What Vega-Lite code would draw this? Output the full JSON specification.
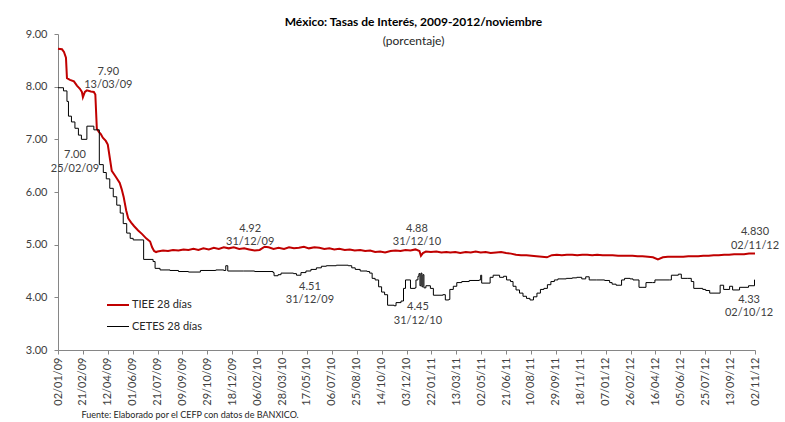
{
  "$schema": "https://vega.github.io/schema/vega-lite/v6.json",
  "width": 697,
  "height": 316,
  "autosize": {"type": "none"},
  "padding": {"left": 58, "top": 34, "right": 30, "bottom": 72},
  "background": "white",
  "config": {
    "view": {"stroke": null},
    "font": "Lato",
    "axis": {"grid": false, "domainColor": "#868686", "tickColor": "#868686", "labelColor": "#404040", "labelFont": "Lato", "labelFontSize": 11}
  },
  "title": {
    "text": "México: Tasas de Interés, 2009-2012/noviembre",
    "subtitle": "(porcentaje)",
    "anchor": "middle",
    "frame": "group",
    "offset": -19,
    "dx": 7,
    "dy": 1,
    "font": "Lato",
    "fontSize": 12,
    "fontWeight": "bold",
    "color": "#000000",
    "subtitleFont": "Lato",
    "subtitleFontSize": 12,
    "subtitleColor": "#262626",
    "subtitlePadding": 7
  },
  "datasets": {
    "tiee": [
      {"serie": "TIEE 28 días", "fecha": "2009-01-02", "valor": 8.72},
      {"serie": "TIEE 28 días", "fecha": "2009-01-10", "valor": 8.71},
      {"serie": "TIEE 28 días", "fecha": "2009-01-14", "valor": 8.66},
      {"serie": "TIEE 28 días", "fecha": "2009-01-18", "valor": 8.55},
      {"serie": "TIEE 28 días", "fecha": "2009-01-20", "valor": 8.16},
      {"serie": "TIEE 28 días", "fecha": "2009-01-26", "valor": 8.13},
      {"serie": "TIEE 28 días", "fecha": "2009-02-03", "valor": 8.10},
      {"serie": "TIEE 28 días", "fecha": "2009-02-09", "valor": 8.02},
      {"serie": "TIEE 28 días", "fecha": "2009-02-15", "valor": 7.96},
      {"serie": "TIEE 28 días", "fecha": "2009-02-19", "valor": 7.90},
      {"serie": "TIEE 28 días", "fecha": "2009-02-21", "valor": 7.80},
      {"serie": "TIEE 28 días", "fecha": "2009-02-25", "valor": 7.90},
      {"serie": "TIEE 28 días", "fecha": "2009-03-01", "valor": 7.93},
      {"serie": "TIEE 28 días", "fecha": "2009-03-09", "valor": 7.91},
      {"serie": "TIEE 28 días", "fecha": "2009-03-15", "valor": 7.90},
      {"serie": "TIEE 28 días", "fecha": "2009-03-18", "valor": 7.85},
      {"serie": "TIEE 28 días", "fecha": "2009-03-21", "valor": 7.20},
      {"serie": "TIEE 28 días", "fecha": "2009-03-25", "valor": 7.14},
      {"serie": "TIEE 28 días", "fecha": "2009-03-29", "valor": 7.10},
      {"serie": "TIEE 28 días", "fecha": "2009-04-02", "valor": 7.03},
      {"serie": "TIEE 28 días", "fecha": "2009-04-08", "valor": 6.97},
      {"serie": "TIEE 28 días", "fecha": "2009-04-12", "valor": 6.90},
      {"serie": "TIEE 28 días", "fecha": "2009-04-16", "valor": 6.65},
      {"serie": "TIEE 28 días", "fecha": "2009-04-20", "valor": 6.40},
      {"serie": "TIEE 28 días", "fecha": "2009-04-28", "valor": 6.29},
      {"serie": "TIEE 28 días", "fecha": "2009-05-06", "valor": 6.17},
      {"serie": "TIEE 28 días", "fecha": "2009-05-10", "valor": 6.05},
      {"serie": "TIEE 28 días", "fecha": "2009-05-14", "valor": 5.90},
      {"serie": "TIEE 28 días", "fecha": "2009-05-19", "valor": 5.65},
      {"serie": "TIEE 28 días", "fecha": "2009-05-23", "valor": 5.50},
      {"serie": "TIEE 28 días", "fecha": "2009-05-29", "valor": 5.42},
      {"serie": "TIEE 28 días", "fecha": "2009-06-04", "valor": 5.35},
      {"serie": "TIEE 28 días", "fecha": "2009-06-12", "valor": 5.27},
      {"serie": "TIEE 28 días", "fecha": "2009-06-20", "valor": 5.20},
      {"serie": "TIEE 28 días", "fecha": "2009-06-28", "valor": 5.12},
      {"serie": "TIEE 28 días", "fecha": "2009-07-06", "valor": 5.06},
      {"serie": "TIEE 28 días", "fecha": "2009-07-10", "valor": 4.95},
      {"serie": "TIEE 28 días", "fecha": "2009-07-14", "valor": 4.88},
      {"serie": "TIEE 28 días", "fecha": "2009-07-18", "valor": 4.86},
      {"serie": "TIEE 28 días", "fecha": "2009-07-21", "valor": 4.87},
      {"serie": "TIEE 28 días", "fecha": "2009-08-01", "valor": 4.89},
      {"serie": "TIEE 28 días", "fecha": "2009-08-11", "valor": 4.88},
      {"serie": "TIEE 28 días", "fecha": "2009-08-21", "valor": 4.90},
      {"serie": "TIEE 28 días", "fecha": "2009-09-01", "valor": 4.89},
      {"serie": "TIEE 28 días", "fecha": "2009-09-11", "valor": 4.91},
      {"serie": "TIEE 28 días", "fecha": "2009-09-21", "valor": 4.90},
      {"serie": "TIEE 28 días", "fecha": "2009-10-01", "valor": 4.92},
      {"serie": "TIEE 28 días", "fecha": "2009-10-11", "valor": 4.90},
      {"serie": "TIEE 28 días", "fecha": "2009-10-21", "valor": 4.93},
      {"serie": "TIEE 28 días", "fecha": "2009-11-01", "valor": 4.91},
      {"serie": "TIEE 28 días", "fecha": "2009-11-11", "valor": 4.94},
      {"serie": "TIEE 28 días", "fecha": "2009-11-21", "valor": 4.92},
      {"serie": "TIEE 28 días", "fecha": "2009-12-01", "valor": 4.95},
      {"serie": "TIEE 28 días", "fecha": "2009-12-11", "valor": 4.93},
      {"serie": "TIEE 28 días", "fecha": "2009-12-21", "valor": 4.95},
      {"serie": "TIEE 28 días", "fecha": "2010-01-01", "valor": 4.92},
      {"serie": "TIEE 28 días", "fecha": "2010-01-11", "valor": 4.93},
      {"serie": "TIEE 28 días", "fecha": "2010-01-21", "valor": 4.91},
      {"serie": "TIEE 28 días", "fecha": "2010-02-01", "valor": 4.89},
      {"serie": "TIEE 28 días", "fecha": "2010-02-11", "valor": 4.90},
      {"serie": "TIEE 28 días", "fecha": "2010-02-21", "valor": 4.96},
      {"serie": "TIEE 28 días", "fecha": "2010-03-01", "valor": 4.95},
      {"serie": "TIEE 28 días", "fecha": "2010-03-11", "valor": 4.92},
      {"serie": "TIEE 28 días", "fecha": "2010-03-21", "valor": 4.94},
      {"serie": "TIEE 28 días", "fecha": "2010-04-01", "valor": 4.92},
      {"serie": "TIEE 28 días", "fecha": "2010-04-11", "valor": 4.95},
      {"serie": "TIEE 28 días", "fecha": "2010-04-21", "valor": 4.93},
      {"serie": "TIEE 28 días", "fecha": "2010-05-01", "valor": 4.94},
      {"serie": "TIEE 28 días", "fecha": "2010-05-11", "valor": 4.96},
      {"serie": "TIEE 28 días", "fecha": "2010-05-21", "valor": 4.93},
      {"serie": "TIEE 28 días", "fecha": "2010-06-01", "valor": 4.95},
      {"serie": "TIEE 28 días", "fecha": "2010-06-11", "valor": 4.94},
      {"serie": "TIEE 28 días", "fecha": "2010-06-21", "valor": 4.92},
      {"serie": "TIEE 28 días", "fecha": "2010-07-01", "valor": 4.93},
      {"serie": "TIEE 28 días", "fecha": "2010-07-11", "valor": 4.91},
      {"serie": "TIEE 28 días", "fecha": "2010-07-21", "valor": 4.92},
      {"serie": "TIEE 28 días", "fecha": "2010-08-01", "valor": 4.90},
      {"serie": "TIEE 28 días", "fecha": "2010-08-11", "valor": 4.91},
      {"serie": "TIEE 28 días", "fecha": "2010-08-21", "valor": 4.89},
      {"serie": "TIEE 28 días", "fecha": "2010-09-01", "valor": 4.90},
      {"serie": "TIEE 28 días", "fecha": "2010-09-11", "valor": 4.88},
      {"serie": "TIEE 28 días", "fecha": "2010-09-21", "valor": 4.89},
      {"serie": "TIEE 28 días", "fecha": "2010-10-01", "valor": 4.86},
      {"serie": "TIEE 28 días", "fecha": "2010-10-11", "valor": 4.87},
      {"serie": "TIEE 28 días", "fecha": "2010-10-21", "valor": 4.85},
      {"serie": "TIEE 28 días", "fecha": "2010-11-01", "valor": 4.88},
      {"serie": "TIEE 28 días", "fecha": "2010-11-11", "valor": 4.89},
      {"serie": "TIEE 28 días", "fecha": "2010-11-21", "valor": 4.88},
      {"serie": "TIEE 28 días", "fecha": "2010-12-01", "valor": 4.90},
      {"serie": "TIEE 28 días", "fecha": "2010-12-11", "valor": 4.89},
      {"serie": "TIEE 28 días", "fecha": "2010-12-21", "valor": 4.91},
      {"serie": "TIEE 28 días", "fecha": "2010-12-29", "valor": 4.88},
      {"serie": "TIEE 28 días", "fecha": "2011-01-01", "valor": 4.79},
      {"serie": "TIEE 28 días", "fecha": "2011-01-05", "valor": 4.84},
      {"serie": "TIEE 28 días", "fecha": "2011-01-11", "valor": 4.87},
      {"serie": "TIEE 28 días", "fecha": "2011-01-21", "valor": 4.86},
      {"serie": "TIEE 28 días", "fecha": "2011-02-01", "valor": 4.87},
      {"serie": "TIEE 28 días", "fecha": "2011-02-11", "valor": 4.85},
      {"serie": "TIEE 28 días", "fecha": "2011-02-21", "valor": 4.86},
      {"serie": "TIEE 28 días", "fecha": "2011-03-01", "valor": 4.85},
      {"serie": "TIEE 28 días", "fecha": "2011-03-11", "valor": 4.86},
      {"serie": "TIEE 28 días", "fecha": "2011-03-21", "valor": 4.84},
      {"serie": "TIEE 28 días", "fecha": "2011-04-01", "valor": 4.86},
      {"serie": "TIEE 28 días", "fecha": "2011-04-11", "valor": 4.85},
      {"serie": "TIEE 28 días", "fecha": "2011-04-21", "valor": 4.87},
      {"serie": "TIEE 28 días", "fecha": "2011-05-01", "valor": 4.85},
      {"serie": "TIEE 28 días", "fecha": "2011-05-11", "valor": 4.86},
      {"serie": "TIEE 28 días", "fecha": "2011-05-21", "valor": 4.84},
      {"serie": "TIEE 28 días", "fecha": "2011-06-01", "valor": 4.85},
      {"serie": "TIEE 28 días", "fecha": "2011-06-11", "valor": 4.86},
      {"serie": "TIEE 28 días", "fecha": "2011-06-21", "valor": 4.84},
      {"serie": "TIEE 28 días", "fecha": "2011-07-01", "valor": 4.83},
      {"serie": "TIEE 28 días", "fecha": "2011-07-11", "valor": 4.81},
      {"serie": "TIEE 28 días", "fecha": "2011-07-21", "valor": 4.80},
      {"serie": "TIEE 28 días", "fecha": "2011-08-01", "valor": 4.80},
      {"serie": "TIEE 28 días", "fecha": "2011-08-11", "valor": 4.79},
      {"serie": "TIEE 28 días", "fecha": "2011-08-21", "valor": 4.78},
      {"serie": "TIEE 28 días", "fecha": "2011-09-01", "valor": 4.77},
      {"serie": "TIEE 28 días", "fecha": "2011-09-11", "valor": 4.76},
      {"serie": "TIEE 28 días", "fecha": "2011-09-21", "valor": 4.80},
      {"serie": "TIEE 28 días", "fecha": "2011-10-01", "valor": 4.81},
      {"serie": "TIEE 28 días", "fecha": "2011-10-11", "valor": 4.80},
      {"serie": "TIEE 28 días", "fecha": "2011-10-21", "valor": 4.81},
      {"serie": "TIEE 28 días", "fecha": "2011-11-01", "valor": 4.81},
      {"serie": "TIEE 28 días", "fecha": "2011-11-11", "valor": 4.80},
      {"serie": "TIEE 28 días", "fecha": "2011-11-21", "valor": 4.81},
      {"serie": "TIEE 28 días", "fecha": "2011-12-01", "valor": 4.81},
      {"serie": "TIEE 28 días", "fecha": "2011-12-11", "valor": 4.80},
      {"serie": "TIEE 28 días", "fecha": "2011-12-21", "valor": 4.81},
      {"serie": "TIEE 28 días", "fecha": "2012-01-01", "valor": 4.80},
      {"serie": "TIEE 28 días", "fecha": "2012-01-11", "valor": 4.80},
      {"serie": "TIEE 28 días", "fecha": "2012-01-21", "valor": 4.80},
      {"serie": "TIEE 28 días", "fecha": "2012-02-01", "valor": 4.79},
      {"serie": "TIEE 28 días", "fecha": "2012-02-11", "valor": 4.79},
      {"serie": "TIEE 28 días", "fecha": "2012-02-21", "valor": 4.79},
      {"serie": "TIEE 28 días", "fecha": "2012-03-01", "valor": 4.79},
      {"serie": "TIEE 28 días", "fecha": "2012-03-11", "valor": 4.78},
      {"serie": "TIEE 28 días", "fecha": "2012-03-21", "valor": 4.78},
      {"serie": "TIEE 28 días", "fecha": "2012-04-01", "valor": 4.77},
      {"serie": "TIEE 28 días", "fecha": "2012-04-11", "valor": 4.76},
      {"serie": "TIEE 28 días", "fecha": "2012-04-21", "valor": 4.72},
      {"serie": "TIEE 28 días", "fecha": "2012-05-01", "valor": 4.76},
      {"serie": "TIEE 28 días", "fecha": "2012-05-11", "valor": 4.77},
      {"serie": "TIEE 28 días", "fecha": "2012-05-21", "valor": 4.77},
      {"serie": "TIEE 28 días", "fecha": "2012-06-01", "valor": 4.77},
      {"serie": "TIEE 28 días", "fecha": "2012-06-11", "valor": 4.77},
      {"serie": "TIEE 28 días", "fecha": "2012-06-21", "valor": 4.78},
      {"serie": "TIEE 28 días", "fecha": "2012-07-01", "valor": 4.78},
      {"serie": "TIEE 28 días", "fecha": "2012-07-11", "valor": 4.78},
      {"serie": "TIEE 28 días", "fecha": "2012-07-21", "valor": 4.79},
      {"serie": "TIEE 28 días", "fecha": "2012-08-01", "valor": 4.79},
      {"serie": "TIEE 28 días", "fecha": "2012-08-11", "valor": 4.80},
      {"serie": "TIEE 28 días", "fecha": "2012-08-21", "valor": 4.80},
      {"serie": "TIEE 28 días", "fecha": "2012-09-01", "valor": 4.81},
      {"serie": "TIEE 28 días", "fecha": "2012-09-11", "valor": 4.81},
      {"serie": "TIEE 28 días", "fecha": "2012-09-21", "valor": 4.82},
      {"serie": "TIEE 28 días", "fecha": "2012-10-01", "valor": 4.82},
      {"serie": "TIEE 28 días", "fecha": "2012-10-11", "valor": 4.82},
      {"serie": "TIEE 28 días", "fecha": "2012-10-21", "valor": 4.83},
      {"serie": "TIEE 28 días", "fecha": "2012-11-02", "valor": 4.83}
    ],
    "cetes": [
      {"serie": "CETES 28 días", "fecha": "2009-01-02", "valor": 7.98},
      {"serie": "CETES 28 días", "fecha": "2009-01-13", "valor": 7.92},
      {"serie": "CETES 28 días", "fecha": "2009-01-20", "valor": 7.72},
      {"serie": "CETES 28 días", "fecha": "2009-01-23", "valor": 7.44},
      {"serie": "CETES 28 días", "fecha": "2009-01-29", "valor": 7.33},
      {"serie": "CETES 28 días", "fecha": "2009-02-05", "valor": 7.21},
      {"serie": "CETES 28 días", "fecha": "2009-02-12", "valor": 7.08},
      {"serie": "CETES 28 días", "fecha": "2009-02-18", "valor": 7.00},
      {"serie": "CETES 28 días", "fecha": "2009-03-01", "valor": 7.25},
      {"serie": "CETES 28 días", "fecha": "2009-03-15", "valor": 7.18},
      {"serie": "CETES 28 días", "fecha": "2009-03-26", "valor": 6.52},
      {"serie": "CETES 28 días", "fecha": "2009-04-03", "valor": 6.37},
      {"serie": "CETES 28 días", "fecha": "2009-04-09", "valor": 6.25},
      {"serie": "CETES 28 días", "fecha": "2009-04-16", "valor": 6.07},
      {"serie": "CETES 28 días", "fecha": "2009-04-23", "valor": 5.91},
      {"serie": "CETES 28 días", "fecha": "2009-04-30", "valor": 5.75},
      {"serie": "CETES 28 días", "fecha": "2009-05-07", "valor": 5.60},
      {"serie": "CETES 28 días", "fecha": "2009-05-13", "valor": 5.40},
      {"serie": "CETES 28 días", "fecha": "2009-05-20", "valor": 5.22},
      {"serie": "CETES 28 días", "fecha": "2009-05-27", "valor": 5.12},
      {"serie": "CETES 28 días", "fecha": "2009-06-02", "valor": 5.09},
      {"serie": "CETES 28 días", "fecha": "2009-06-23", "valor": 4.72},
      {"serie": "CETES 28 días", "fecha": "2009-07-12", "valor": 4.68},
      {"serie": "CETES 28 días", "fecha": "2009-07-16", "valor": 4.55},
      {"serie": "CETES 28 días", "fecha": "2009-07-26", "valor": 4.52},
      {"serie": "CETES 28 días", "fecha": "2009-08-15", "valor": 4.51},
      {"serie": "CETES 28 días", "fecha": "2009-09-01", "valor": 4.49},
      {"serie": "CETES 28 días", "fecha": "2009-09-21", "valor": 4.48},
      {"serie": "CETES 28 días", "fecha": "2009-10-15", "valor": 4.51},
      {"serie": "CETES 28 días", "fecha": "2009-11-15", "valor": 4.52},
      {"serie": "CETES 28 días", "fecha": "2009-12-01", "valor": 4.51},
      {"serie": "CETES 28 días", "fecha": "2009-12-05", "valor": 4.60},
      {"serie": "CETES 28 días", "fecha": "2009-12-09", "valor": 4.50},
      {"serie": "CETES 28 días", "fecha": "2010-01-10", "valor": 4.50},
      {"serie": "CETES 28 días", "fecha": "2010-02-01", "valor": 4.49},
      {"serie": "CETES 28 días", "fecha": "2010-03-10", "valor": 4.47},
      {"serie": "CETES 28 días", "fecha": "2010-03-12", "valor": 4.41},
      {"serie": "CETES 28 días", "fecha": "2010-03-20", "valor": 4.43},
      {"serie": "CETES 28 días", "fecha": "2010-03-26", "valor": 4.46},
      {"serie": "CETES 28 días", "fecha": "2010-04-20", "valor": 4.45},
      {"serie": "CETES 28 días", "fecha": "2010-04-26", "valor": 4.42},
      {"serie": "CETES 28 días", "fecha": "2010-05-05", "valor": 4.47},
      {"serie": "CETES 28 días", "fecha": "2010-05-15", "valor": 4.50},
      {"serie": "CETES 28 días", "fecha": "2010-05-25", "valor": 4.53},
      {"serie": "CETES 28 días", "fecha": "2010-06-05", "valor": 4.56},
      {"serie": "CETES 28 días", "fecha": "2010-06-15", "valor": 4.59},
      {"serie": "CETES 28 días", "fecha": "2010-06-25", "valor": 4.60},
      {"serie": "CETES 28 días", "fecha": "2010-07-15", "valor": 4.61},
      {"serie": "CETES 28 días", "fecha": "2010-08-08", "valor": 4.60},
      {"serie": "CETES 28 días", "fecha": "2010-08-15", "valor": 4.56},
      {"serie": "CETES 28 días", "fecha": "2010-08-22", "valor": 4.53},
      {"serie": "CETES 28 días", "fecha": "2010-09-01", "valor": 4.50},
      {"serie": "CETES 28 días", "fecha": "2010-09-15", "valor": 4.49},
      {"serie": "CETES 28 días", "fecha": "2010-09-20", "valor": 4.46},
      {"serie": "CETES 28 días", "fecha": "2010-09-25", "valor": 4.36},
      {"serie": "CETES 28 días", "fecha": "2010-10-01", "valor": 4.33},
      {"serie": "CETES 28 días", "fecha": "2010-10-08", "valor": 4.20},
      {"serie": "CETES 28 días", "fecha": "2010-10-14", "valor": 4.10},
      {"serie": "CETES 28 días", "fecha": "2010-10-20", "valor": 4.05},
      {"serie": "CETES 28 días", "fecha": "2010-10-26", "valor": 3.85},
      {"serie": "CETES 28 días", "fecha": "2010-11-08", "valor": 3.84},
      {"serie": "CETES 28 días", "fecha": "2010-11-12", "valor": 3.90},
      {"serie": "CETES 28 días", "fecha": "2010-11-22", "valor": 3.93},
      {"serie": "CETES 28 días", "fecha": "2010-11-27", "valor": 4.17},
      {"serie": "CETES 28 días", "fecha": "2010-12-01", "valor": 4.33},
      {"serie": "CETES 28 días", "fecha": "2010-12-11", "valor": 4.17},
      {"serie": "CETES 28 días", "fecha": "2010-12-20", "valor": 4.18},
      {"serie": "CETES 28 días", "fecha": "2010-12-22", "valor": 4.33},
      {"serie": "CETES 28 días", "fecha": "2010-12-26", "valor": 4.40},
      {"serie": "CETES 28 días", "fecha": "2010-12-28", "valor": 4.45},
      {"serie": "CETES 28 días", "fecha": "2010-12-30", "valor": 4.22},
      {"serie": "CETES 28 días", "fecha": "2011-01-01", "valor": 4.46},
      {"serie": "CETES 28 días", "fecha": "2011-01-03", "valor": 4.20},
      {"serie": "CETES 28 días", "fecha": "2011-01-05", "valor": 4.43},
      {"serie": "CETES 28 días", "fecha": "2011-01-07", "valor": 4.18},
      {"serie": "CETES 28 días", "fecha": "2011-01-11", "valor": 4.22},
      {"serie": "CETES 28 días", "fecha": "2011-01-20", "valor": 4.17},
      {"serie": "CETES 28 días", "fecha": "2011-01-26", "valor": 4.04},
      {"serie": "CETES 28 días", "fecha": "2011-02-14", "valor": 4.05},
      {"serie": "CETES 28 días", "fecha": "2011-02-19", "valor": 3.95},
      {"serie": "CETES 28 días", "fecha": "2011-02-26", "valor": 3.96},
      {"serie": "CETES 28 días", "fecha": "2011-02-28", "valor": 4.15},
      {"serie": "CETES 28 días", "fecha": "2011-03-07", "valor": 4.21},
      {"serie": "CETES 28 días", "fecha": "2011-03-14", "valor": 4.28},
      {"serie": "CETES 28 días", "fecha": "2011-03-24", "valor": 4.30},
      {"serie": "CETES 28 días", "fecha": "2011-04-08", "valor": 4.32},
      {"serie": "CETES 28 días", "fecha": "2011-04-28", "valor": 4.33},
      {"serie": "CETES 28 días", "fecha": "2011-05-01", "valor": 4.42},
      {"serie": "CETES 28 días", "fecha": "2011-05-03", "valor": 4.27},
      {"serie": "CETES 28 días", "fecha": "2011-05-20", "valor": 4.38},
      {"serie": "CETES 28 días", "fecha": "2011-05-26", "valor": 4.42},
      {"serie": "CETES 28 días", "fecha": "2011-06-08", "valor": 4.38},
      {"serie": "CETES 28 días", "fecha": "2011-06-16", "valor": 4.40},
      {"serie": "CETES 28 días", "fecha": "2011-06-22", "valor": 4.33},
      {"serie": "CETES 28 días", "fecha": "2011-06-30", "valor": 4.30},
      {"serie": "CETES 28 días", "fecha": "2011-07-05", "valor": 4.21},
      {"serie": "CETES 28 días", "fecha": "2011-07-11", "valor": 4.14},
      {"serie": "CETES 28 días", "fecha": "2011-07-18", "valor": 4.08},
      {"serie": "CETES 28 días", "fecha": "2011-07-25", "valor": 4.02},
      {"serie": "CETES 28 días", "fecha": "2011-08-01", "valor": 3.98},
      {"serie": "CETES 28 días", "fecha": "2011-08-08", "valor": 3.95},
      {"serie": "CETES 28 días", "fecha": "2011-08-15", "valor": 4.01},
      {"serie": "CETES 28 días", "fecha": "2011-08-22", "valor": 4.08},
      {"serie": "CETES 28 días", "fecha": "2011-08-29", "valor": 4.15},
      {"serie": "CETES 28 días", "fecha": "2011-09-05", "valor": 4.17},
      {"serie": "CETES 28 días", "fecha": "2011-09-12", "valor": 4.24},
      {"serie": "CETES 28 días", "fecha": "2011-09-19", "valor": 4.30},
      {"serie": "CETES 28 días", "fecha": "2011-09-26", "valor": 4.33},
      {"serie": "CETES 28 días", "fecha": "2011-10-03", "valor": 4.35},
      {"serie": "CETES 28 días", "fecha": "2011-10-20", "valor": 4.36},
      {"serie": "CETES 28 días", "fecha": "2011-11-01", "valor": 4.37},
      {"serie": "CETES 28 días", "fecha": "2011-11-10", "valor": 4.38},
      {"serie": "CETES 28 días", "fecha": "2011-11-20", "valor": 4.35},
      {"serie": "CETES 28 días", "fecha": "2011-11-28", "valor": 4.39},
      {"serie": "CETES 28 días", "fecha": "2011-12-05", "valor": 4.33},
      {"serie": "CETES 28 días", "fecha": "2011-12-20", "valor": 4.33},
      {"serie": "CETES 28 días", "fecha": "2012-01-05", "valor": 4.32},
      {"serie": "CETES 28 días", "fecha": "2012-01-15", "valor": 4.28},
      {"serie": "CETES 28 días", "fecha": "2012-01-20", "valor": 4.25},
      {"serie": "CETES 28 días", "fecha": "2012-01-28", "valor": 4.23},
      {"serie": "CETES 28 días", "fecha": "2012-02-08", "valor": 4.33},
      {"serie": "CETES 28 días", "fecha": "2012-02-14", "valor": 4.36},
      {"serie": "CETES 28 días", "fecha": "2012-02-25", "valor": 4.35},
      {"serie": "CETES 28 días", "fecha": "2012-03-02", "valor": 4.33},
      {"serie": "CETES 28 días", "fecha": "2012-03-14", "valor": 4.19},
      {"serie": "CETES 28 días", "fecha": "2012-03-22", "valor": 4.19},
      {"serie": "CETES 28 días", "fecha": "2012-03-28", "valor": 4.28},
      {"serie": "CETES 28 días", "fecha": "2012-04-10", "valor": 4.28},
      {"serie": "CETES 28 días", "fecha": "2012-04-15", "valor": 4.33},
      {"serie": "CETES 28 días", "fecha": "2012-05-14", "valor": 4.33},
      {"serie": "CETES 28 días", "fecha": "2012-05-18", "valor": 4.42},
      {"serie": "CETES 28 días", "fecha": "2012-06-01", "valor": 4.44},
      {"serie": "CETES 28 días", "fecha": "2012-06-07", "valor": 4.36},
      {"serie": "CETES 28 días", "fecha": "2012-06-20", "valor": 4.36},
      {"serie": "CETES 28 días", "fecha": "2012-06-27", "valor": 4.30},
      {"serie": "CETES 28 días", "fecha": "2012-07-02", "valor": 4.17},
      {"serie": "CETES 28 días", "fecha": "2012-07-20", "valor": 4.15},
      {"serie": "CETES 28 días", "fecha": "2012-07-26", "valor": 4.13},
      {"serie": "CETES 28 días", "fecha": "2012-08-03", "valor": 4.08},
      {"serie": "CETES 28 días", "fecha": "2012-08-24", "valor": 4.23},
      {"serie": "CETES 28 días", "fecha": "2012-08-31", "valor": 4.15},
      {"serie": "CETES 28 días", "fecha": "2012-09-12", "valor": 4.21},
      {"serie": "CETES 28 días", "fecha": "2012-09-18", "valor": 4.14},
      {"serie": "CETES 28 días", "fecha": "2012-10-02", "valor": 4.19},
      {"serie": "CETES 28 días", "fecha": "2012-10-20", "valor": 4.22},
      {"serie": "CETES 28 días", "fecha": "2012-11-01", "valor": 4.33},
      {"serie": "CETES 28 días", "fecha": "2012-11-02", "valor": 4.33}
    ],
    "notas": [
      {"fecha": "2009-04-13", "valor": 8.28, "etiqueta": "7.90\n13/03/09"},
      {"fecha": "2009-02-05", "valor": 6.70, "etiqueta": "7.00\n25/02/09"},
      {"fecha": "2010-01-23", "valor": 5.30, "etiqueta": "4.92\n31/12/09"},
      {"fecha": "2010-05-23", "valor": 4.20, "etiqueta": "4.51\n31/12/09"},
      {"fecha": "2010-12-24", "valor": 5.30, "etiqueta": "4.88\n31/12/10"},
      {"fecha": "2010-12-26", "valor": 3.81, "etiqueta": "4.45\n31/12/10"},
      {"fecha": "2012-11-02", "valor": 5.24, "etiqueta": "4.830\n02/11/12"},
      {"fecha": "2012-10-21", "valor": 3.95, "etiqueta": "4.33\n02/10/12"}
    ]
  },
  "encoding": {
    "x": {
      "field": "fecha",
      "type": "temporal",
      "scale": {
        "type": "utc",
        "domain": [
          {"year": 2009, "month": 1, "date": 2, "utc": true},
          {"year": 2012, "month": 11, "date": 2, "utc": true}
        ]
      },
      "axis": {
        "values": [
          {"year": 2009, "month": 1, "date": 2, "utc": true},
          {"year": 2009, "month": 2, "date": 21, "utc": true},
          {"year": 2009, "month": 4, "date": 12, "utc": true},
          {"year": 2009, "month": 6, "date": 1, "utc": true},
          {"year": 2009, "month": 7, "date": 21, "utc": true},
          {"year": 2009, "month": 9, "date": 9, "utc": true},
          {"year": 2009, "month": 10, "date": 29, "utc": true},
          {"year": 2009, "month": 12, "date": 18, "utc": true},
          {"year": 2010, "month": 2, "date": 6, "utc": true},
          {"year": 2010, "month": 3, "date": 28, "utc": true},
          {"year": 2010, "month": 5, "date": 17, "utc": true},
          {"year": 2010, "month": 7, "date": 6, "utc": true},
          {"year": 2010, "month": 8, "date": 25, "utc": true},
          {"year": 2010, "month": 10, "date": 14, "utc": true},
          {"year": 2010, "month": 12, "date": 3, "utc": true},
          {"year": 2011, "month": 1, "date": 22, "utc": true},
          {"year": 2011, "month": 3, "date": 13, "utc": true},
          {"year": 2011, "month": 5, "date": 2, "utc": true},
          {"year": 2011, "month": 6, "date": 21, "utc": true},
          {"year": 2011, "month": 8, "date": 10, "utc": true},
          {"year": 2011, "month": 9, "date": 29, "utc": true},
          {"year": 2011, "month": 11, "date": 18, "utc": true},
          {"year": 2012, "month": 1, "date": 7, "utc": true},
          {"year": 2012, "month": 2, "date": 26, "utc": true},
          {"year": 2012, "month": 4, "date": 16, "utc": true},
          {"year": 2012, "month": 6, "date": 5, "utc": true},
          {"year": 2012, "month": 7, "date": 25, "utc": true},
          {"year": 2012, "month": 9, "date": 13, "utc": true},
          {"year": 2012, "month": 11, "date": 2, "utc": true}
        ],
        "format": "%d/%m/%y",
        "labelAngle": -90,
        "labelPadding": 3,
        "tickSize": 4,
        "labelFlush": false,
        "labelOverlap": false,
        "labelBound": false,
        "title": "Fuente: Elaborado por  el CEFP con datos de BANXICO.",
        "titleFont": "Lato",
        "titleFontSize": 9,
        "titleFontWeight": "normal",
        "titleColor": "#262626",
        "titleAnchor": "start",
        "titleAlign": "left",
        "titleX": 23,
        "titleY": 64,
        "titleBaseline": "middle"
      }
    },
    "y": {
      "field": "valor",
      "type": "quantitative",
      "scale": {"domain": [3, 9], "nice": false, "zero": false},
      "axis": {
        "values": [3, 4, 5, 6, 7, 8, 9],
        "format": ".2f",
        "tickSize": 4,
        "labelPadding": 7,
        "title": null
      }
    }
  },
  "layer": [
    {
      "data": {"name": "tiee"},
      "mark": {"type": "line", "interpolate": "linear"},
      "encoding": {
        "color": {
          "field": "serie",
          "type": "nominal",
          "scale": {"domain": ["TIEE 28 días", "CETES 28 días"], "range": ["#C00000", "#000000"]},
          "legend": {
            "orient": "none",
            "legendX": 48,
            "legendY": 259,
            "title": null,
            "symbolType": "stroke",
            "symbolSize": 484,
            "symbolStrokeWidth": 2,
            "labelFont": "Lato",
            "labelFontSize": 11,
            "labelColor": "#262626",
            "labelOffset": 2,
            "rowPadding": 5,
            "padding": 0
          }
        },
        "strokeWidth": {
          "field": "serie",
          "type": "nominal",
          "scale": {"domain": ["TIEE 28 días", "CETES 28 días"], "range": [2, 1]},
          "legend": null
        }
      }
    },
    {
      "data": {"name": "cetes"},
      "mark": {"type": "line", "interpolate": "step-after"},
      "encoding": {
        "color": {"field": "serie", "type": "nominal"},
        "strokeWidth": {"field": "serie", "type": "nominal"}
      }
    },
    {
      "data": {"name": "notas"},
      "mark": {
        "type": "text",
        "lineBreak": "\n",
        "font": "Lato",
        "fontSize": 11,
        "lineHeight": 13.5,
        "color": "#404040",
        "align": "center",
        "baseline": "middle"
      },
      "encoding": {
        "text": {"field": "etiqueta", "type": "nominal"}
      }
    }
  ]
}
